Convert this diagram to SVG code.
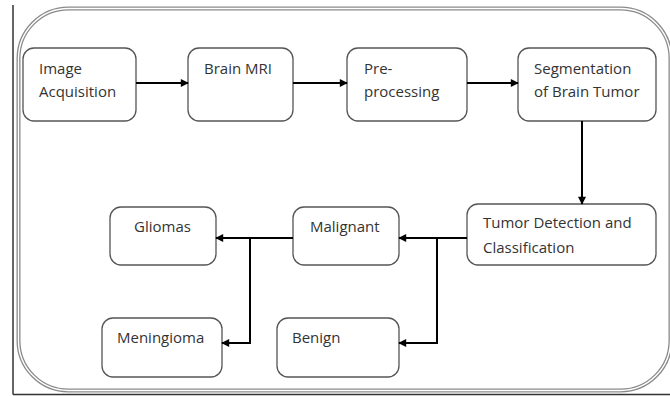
<svg xmlns="http://www.w3.org/2000/svg" width="670" height="396" viewBox="0 0 670 396">
<defs>
<style>
.node{fill:#fff;stroke:#555;stroke-width:1.3}
.t{font-family:"Open Sans","Noto Sans",sans-serif;font-size:15px;fill:#333}
.c{fill:none;stroke:#000;stroke-width:2}
</style>
<marker id="ah" viewBox="0 0 10 10" refX="9" refY="5" markerWidth="9" markerHeight="8" markerUnits="userSpaceOnUse" orient="auto">
<path d="M0,0 L10,5 L0,10 Z" fill="#000"/>
</marker>
</defs>
<rect width="670" height="396" fill="#fff"/>
<g id="frame">
<line x1="13" y1="5" x2="13" y2="394.5" stroke="#333" stroke-width="1.5"/>
<line x1="13" y1="394.5" x2="670" y2="394.5" stroke="#333" stroke-width="1.5"/>
<rect x="18.5" y="8.5" width="652" height="382" rx="50" ry="50" fill="none" stroke="#8a8a8a" stroke-width="4"/>
<rect x="18.5" y="8.5" width="652" height="382" rx="50" ry="50" fill="none" stroke="#fff" stroke-width="1.4"/>
</g>
<g id="image-acquisition">
<rect class="node" x="23" y="48" width="113" height="73" rx="11"/>
<text class="t" x="39" y="74">Image</text>
<text class="t" x="39" y="97">Acquisition</text>
</g>
<g id="brain-mri">
<rect class="node" x="188" y="48" width="105" height="73" rx="11"/>
<text class="t" x="204" y="74">Brain MRI</text>
</g>
<g id="pre-processing">
<rect class="node" x="347" y="48" width="120" height="73" rx="11"/>
<text class="t" x="364" y="74">Pre-</text>
<text class="t" x="364" y="97">processing</text>
</g>
<g id="segmentation">
<rect class="node" x="518" y="48" width="138" height="73" rx="11"/>
<text class="t" x="534" y="74">Segmentation</text>
<text class="t" x="534" y="97">of Brain Tumor</text>
</g>
<g id="tumor-detection">
<rect class="node" x="467" y="204" width="189" height="61" rx="11"/>
<text class="t" x="483" y="228">Tumor Detection and</text>
<text class="t" x="483" y="253">Classification</text>
</g>
<g id="malignant">
<rect class="node" x="293" y="207" width="106" height="58" rx="11"/>
<text class="t" x="310" y="232">Malignant</text>
</g>
<g id="gliomas">
<rect class="node" x="110" y="207" width="106" height="58" rx="11"/>
<text class="t" x="134" y="232">Gliomas</text>
</g>
<g id="meningioma">
<rect class="node" x="102" y="318" width="120" height="59" rx="11"/>
<text class="t" x="117" y="343">Meningioma</text>
</g>
<g id="benign">
<rect class="node" x="277" y="318" width="122" height="59" rx="11"/>
<text class="t" x="292" y="343">Benign</text>
</g>
<g id="connectors">
<line class="c" x1="136" y1="83" x2="188" y2="83" marker-end="url(#ah)"/>
<line class="c" x1="293" y1="83" x2="347" y2="83" marker-end="url(#ah)"/>
<line class="c" x1="467" y1="83" x2="518" y2="83" marker-end="url(#ah)"/>
<line class="c" x1="582" y1="121" x2="582" y2="204" marker-end="url(#ah)"/>
<line class="c" x1="467" y1="238" x2="399" y2="238" marker-end="url(#ah)"/>
<polyline class="c" points="437,238 437,343 399,343" marker-end="url(#ah)"/>
<line class="c" x1="293" y1="238" x2="216" y2="238" marker-end="url(#ah)"/>
<polyline class="c" points="250,238 250,343 222,343" marker-end="url(#ah)"/>
</g>
</svg>
